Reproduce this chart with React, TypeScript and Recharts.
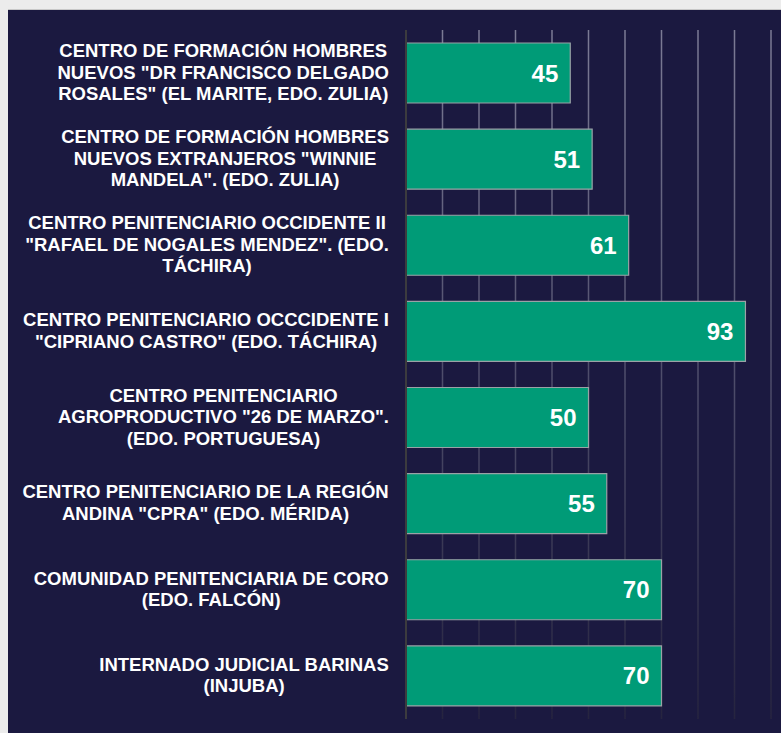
import React from "react";
import { BarChart, Bar, XAxis, YAxis, CartesianGrid, LabelList } from "recharts";

const centros = [
  'CENTRO DE FORMACIÓN HOMBRES\nNUEVOS "DR FRANCISCO DELGADO\nROSALES" (EL MARITE, EDO. ZULIA)',
  'CENTRO DE FORMACIÓN HOMBRES\nNUEVOS EXTRANJEROS "WINNIE\nMANDELA". (EDO. ZULIA)',
  'CENTRO PENITENCIARIO OCCIDENTE II\n"RAFAEL DE NOGALES MENDEZ". (EDO.\nTÁCHIRA)',
  'CENTRO PENITENCIARIO OCCCIDENTE I\n"CIPRIANO CASTRO" (EDO. TÁCHIRA)',
  'CENTRO PENITENCIARIO\nAGROPRODUCTIVO "26 DE MARZO".\n(EDO. PORTUGUESA)',
  'CENTRO PENITENCIARIO DE LA REGIÓN\nANDINA "CPRA" (EDO. MÉRIDA)',
  "COMUNIDAD PENITENCIARIA DE CORO\n(EDO. FALCÓN)",
  "INTERNADO JUDICIAL BARINAS\n(INJUBA)",
];

const valores = [45, 51, 61, 93, 50, 55, 70, 70];

const xTicks = [0, 10, 20, 30, 40, 50, 60, 70, 80, 90, 100];

const data = centros.map((centro, i) => ({ centro, valor: valores[i] }));

const FONT = "'Liberation Sans', Arial, sans-serif";
const LABEL_SIZE = 18.5;
const LINE_H = 21.5;

let ctx: CanvasRenderingContext2D | null = null;
function textWidth(s: string) {
  if (!ctx) ctx = document.createElement("canvas").getContext("2d");
  if (!ctx) return s.length * LABEL_SIZE * 0.65;
  ctx.font = `bold ${LABEL_SIZE}px ${FONT}`;
  return ctx.measureText(s).width;
}

function CentroTick({ x, y, payload }: { x?: number; y?: number; payload?: { value: string } }) {
  if (x == null || y == null || !payload) return null;
  const lines = String(payload.value).split("\n");
  const blockW = Math.max(...lines.map(textWidth));
  const cx = x - blockW / 2;
  const top = y - ((lines.length - 1) * LINE_H) / 2 - 1;
  return (
    <g>
      {lines.map((line, i) => (
        <text
          key={i}
          x={cx}
          y={top + i * LINE_H}
          textAnchor="middle"
          dominantBaseline="central"
          fill="#ffffff"
          fontFamily={FONT}
          fontWeight="bold"
          fontSize={LABEL_SIZE}
        >
          {line}
        </text>
      ))}
    </g>
  );
}

export default function App() {
  return (
    <div style={{ position: "fixed", inset: 0, background: "#ececec" }}>
      <div
        style={{
          position: "absolute",
          left: 8,
          top: 9,
          width: 773,
          height: 724,
          background: "#1b1940",
          borderTop: "1px solid #c8c8c8",
          boxSizing: "border-box",
        }}
      >
        <BarChart
          width={773}
          height={723}
          data={data}
          layout="vertical"
          margin={{ top: 20, right: 10, bottom: 14, left: 0 }}
          barSize={60}
        >
          <defs>
            <linearGradient id="gridFade" gradientUnits="userSpaceOnUse" x1="0" y1="20" x2="0" y2="709">
              <stop offset="0%" stopColor="#7c7b95" />
              <stop offset="55%" stopColor="#4a4967" />
              <stop offset="100%" stopColor="#26243f" />
            </linearGradient>
          </defs>
          <CartesianGrid horizontal={false} stroke="url(#gridFade)" strokeWidth={1.5} />
          <XAxis type="number" domain={[0, 100]} ticks={xTicks} hide />
          <YAxis
            type="category"
            dataKey="centro"
            width={398}
            tickLine={false}
            tickSize={0}
            tickMargin={17}
            axisLine={{ stroke: "#3c3b3e", strokeWidth: 2 }}
            tick={<CentroTick />}
            interval={0}
          />
          <Bar dataKey="valor" fill="#009b77" stroke="#9aa2a6" strokeWidth={1.2} isAnimationActive={false}>
            <LabelList
              dataKey="valor"
              position="insideRight"
              offset={12}
              fill="#ffffff"
              fontFamily={FONT}
              fontWeight="bold"
              fontSize={24}
            />
          </Bar>
        </BarChart>
      </div>
    </div>
  );
}
